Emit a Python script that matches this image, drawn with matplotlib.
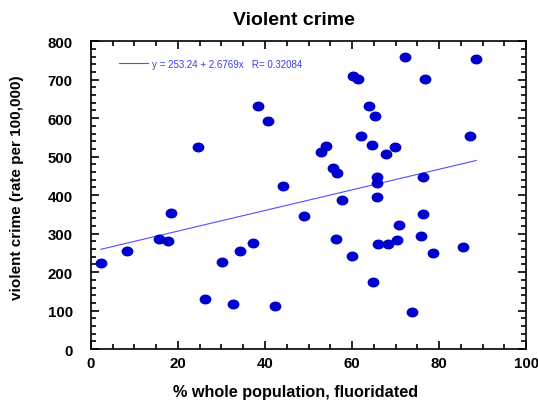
import numpy as np
import matplotlib.pyplot as plt
from matplotlib.path import Path
from matplotlib.transforms import Affine2D
from matplotlib.ticker import MultipleLocator

plt.rcParams['font.family'] = ['Liberation Sans', 'DejaVu Sans']

# % fluoridated vs violent crime rate
fluor = [2.3, 8.3, 15.6, 17.6, 18.5, 24.7, 26.1, 30.1, 32.7, 34.3,
         37.3, 38.5, 40.7, 42.4, 44.1, 49.0, 52.9, 54.0, 55.6, 56.6,
         56.2, 57.7, 59.9, 60.2, 61.4, 62.1, 63.9, 64.6, 65.3, 64.8,
         65.7, 65.7, 65.7, 66.0, 67.8, 68.3, 69.9, 70.4, 70.8, 72.2,
         73.7, 75.8, 76.3, 76.3, 76.8, 78.5, 85.6, 87.1, 88.5]
crime = [225, 254, 286, 281, 354, 524, 130, 227, 117, 256,
         277, 631, 593, 112, 424, 345, 512, 528, 470, 457,
         286, 387, 241, 710, 702, 554, 632, 530, 606, 175,
         447, 432, 395, 272, 507, 274, 525, 283, 322, 760,
         96, 293, 350, 447, 702, 249, 266, 554, 753]

a, b = 253.24, 2.6769
r = 0.32084

fig = plt.figure(figsize=(5.38, 4.02), dpi=100)
ax = fig.add_axes([0.169, 0.129, 0.809, 0.766])

ell = Path.unit_circle().transformed(Affine2D().scale(1.22, 1.0))
ax.plot(fluor, crime, linestyle='none', marker=ell, markersize=7.5,
        color='#0000cc', zorder=3)

xs = np.array([min(fluor), max(fluor)])
ax.plot(xs, a + b * xs, color='#5050ff', lw=0.8,
        label='y = %.2f + %.4fx   R= %.5f' % (a, b, r))

leg = ax.legend(loc='upper left', frameon=False, fontsize=7, handlelength=3.0,
                handletextpad=0.35, labelcolor='#3c3cf0',
                bbox_to_anchor=(0.045, 0.972))

ax.set_xlim(0, 100)
ax.set_ylim(0, 800)
ax.xaxis.set_major_locator(MultipleLocator(20))
ax.xaxis.set_minor_locator(MultipleLocator(5))
ax.yaxis.set_major_locator(MultipleLocator(100))
ax.yaxis.set_minor_locator(MultipleLocator(20))
ax.tick_params(which='both', direction='in', top=True, right=True, width=1.2)
ax.tick_params(which='major', length=6, labelsize=10.8)
ax.tick_params(which='minor', length=3.5)
ax.tick_params(axis='y', which='major', pad=13)
ax.tick_params(axis='x', which='major', pad=5)
for lab in ax.get_xticklabels() + ax.get_yticklabels():
    lab.set_fontweight('bold')
for s in ax.spines.values():
    s.set_linewidth(1.2)

ax.text(0.467, 1.071, 'Violent crime', transform=ax.transAxes,
        ha='center', va='center', fontsize=14, fontweight='bold')
ax.set_xlabel('% whole population, fluoridated', fontsize=11.7, fontweight='bold')
ax.set_ylabel('violent crime (rate per 100,000)', fontsize=11, fontweight='bold')
ax.xaxis.label.set_va('center')
ax.yaxis.label.set_va('center')
ax.xaxis.set_label_coords(0.471, -0.136)
ax.yaxis.set_label_coords(-0.170, 0.529)

fig.savefig('out.png', dpi=100)
